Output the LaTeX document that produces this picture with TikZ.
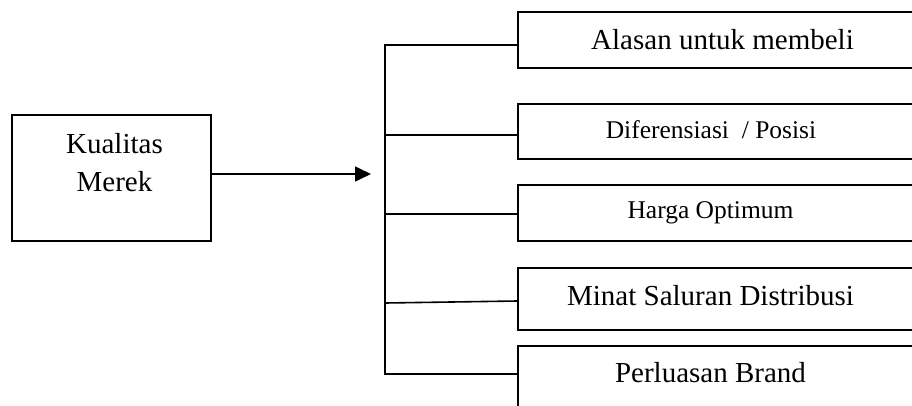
\documentclass[tikz,border=0pt]{standalone}
\usepackage{fontspec}
\setmainfont{Liberation Serif}
\usetikzlibrary{arrows.meta}
\begin{document}
\begin{tikzpicture}[x=1pt,y=-1pt,
  ln/.style={line width=1.6pt, line cap=rect},
  boxr/.style={draw, line width=1.6pt, rectangle, inner sep=0pt, anchor=north west, minimum width=430pt},
  big/.style={font=\fontsize{29}{34}\selectfont, inner sep=0pt, anchor=base},
  small/.style={font=\fontsize{25.5}{30}\selectfont, inner sep=0pt, anchor=base}]
\useasboundingbox (0,0) rectangle (912,405);
\clip (0,0) rectangle (912,405);
% source box
\node[draw, line width=1.6pt, rectangle, inner sep=0pt, anchor=north west,
      minimum width=199pt, minimum height=126pt] (src) at (11,114) {};
\node[big] (srcA) at (114.5,153) {Kualitas};
\node[big] (srcB) at (114.5,191) {Merek};
% target boxes
\node[boxr, minimum height=56pt] (b1) at (517,11) {};
\node[boxr, minimum height=55pt] (b2) at (517,103) {};
\node[boxr, minimum height=56pt] (b3) at (517,184) {};
\node[boxr, minimum height=62pt] (b4) at (517,267) {};
\node[boxr, minimum height=80pt] (b5) at (517,345) {};
% labels
\node[big] (l1) at (722.5,49) {Alasan untuk membeli};
\node[small] (l2) at (711,138) {Diferensiasi\ \ / Posisi};
\node[small] (l3) at (710.5,218) {Harga Optimum};
\node[big] (l4) at (710.5,305) {Minat Saluran Distribusi};
\node[big] (l5) at (710.5,382) {Perluasan Brand};
% arrow
\coordinate (tip) at (371,174);
\draw[line width=1.6pt, -{Triangle[length=16pt,width=15pt]}] (src.east |- tip) -- (tip);
% trunk
\coordinate (j1) at (385,45);
\coordinate (j2) at (385,135);
\coordinate (j3) at (385,214);
\coordinate (j4) at (385,303);
\coordinate (j5) at (385,374);
\draw[ln] (j1) -- (j5);
\draw[ln] (j1) -- (j1 -| b1.west);
\draw[ln] (j2) -- (j2 -| b2.west);
\draw[ln] (j3) -- (j3 -| b3.west);
\draw[ln] (j4) -- ([yshift=2pt]j4 -| b4.west);
\draw[ln] (j5) -- (j5 -| b5.west);
\end{tikzpicture}
\end{document}
